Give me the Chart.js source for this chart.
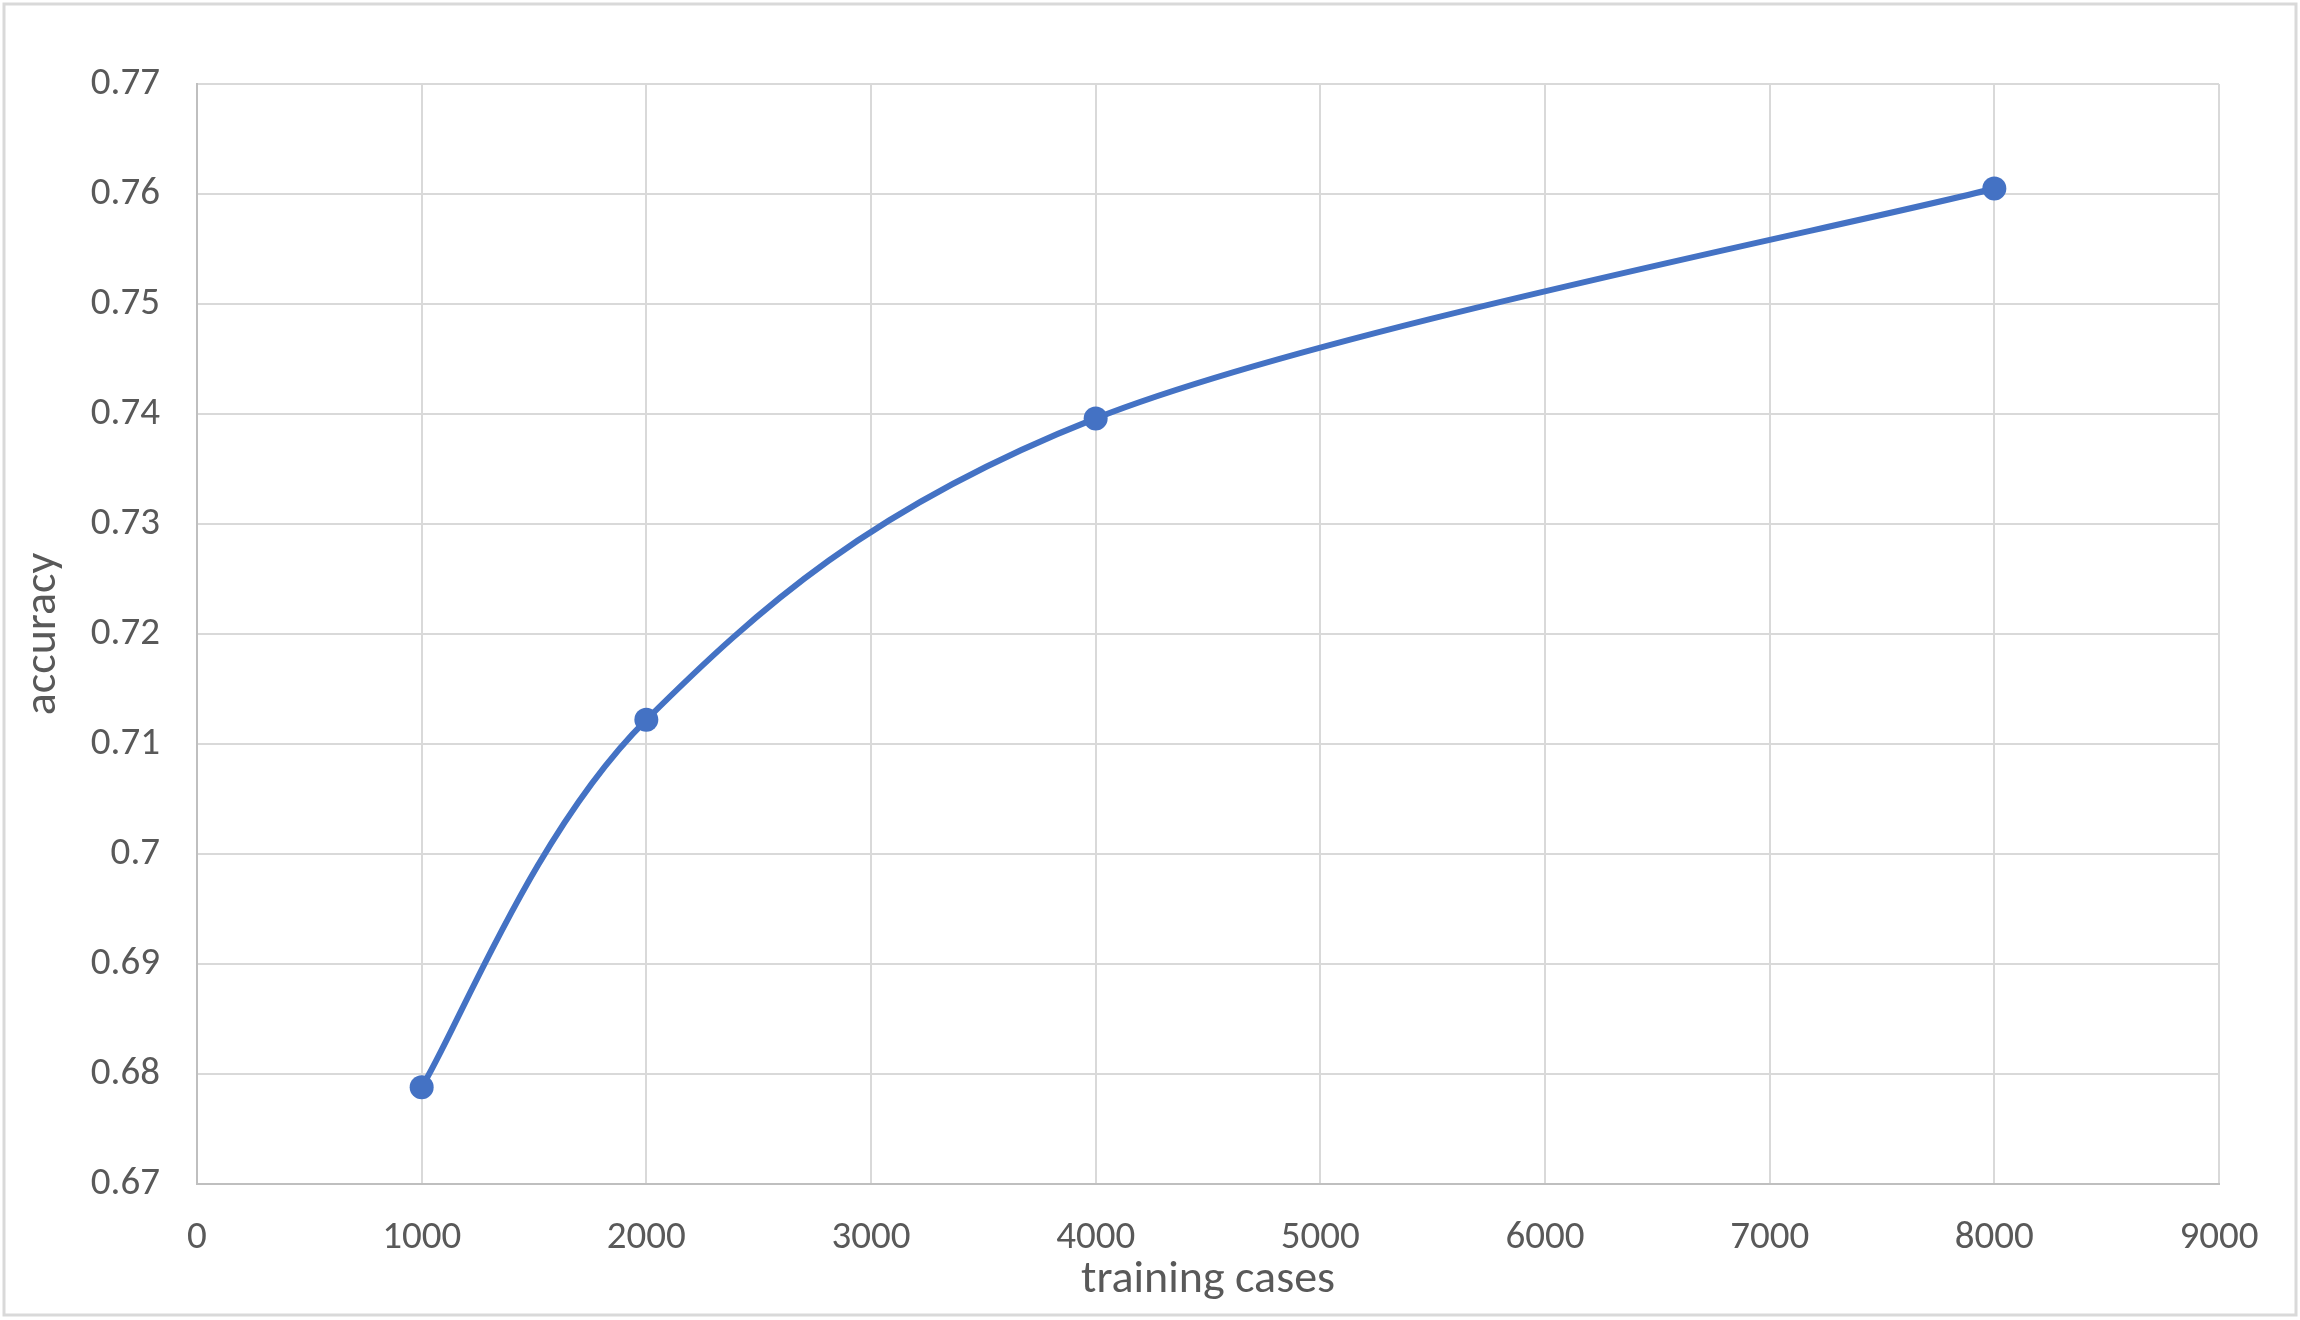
<!DOCTYPE html>
<html>
<head>
<meta charset="utf-8">
<script src="https://cdn.jsdelivr.net/npm/chart.js@4"></script>
<style>
  html, body { margin: 0; padding: 0; background: #fff; }
  #wrap { width: 2300px; height: 1320px; }
</style>
</head>
<body>
<div id="wrap"><canvas id="accChart" width="2300" height="1320"></canvas></div>
<script>
const trainingCases = [1000, 2000, 4000, 8000];
const accuracy = [0.6788, 0.7122, 0.7396, 0.7605];
const xTicks = [0, 1000, 2000, 3000, 4000, 5000, 6000, 7000, 8000, 9000];
const yTicks = [0.67, 0.68, 0.69, 0.7, 0.71, 0.72, 0.73, 0.74, 0.75, 0.76, 0.77];

const fontFamily = "Carlito, Lato, 'Open Sans', sans-serif";
const textColor = "#595959";

// thin grey frame round the whole picture
const frame = {
  id: "frame",
  beforeDraw(chart) {
    const c = chart.ctx;
    c.save();
    c.fillStyle = "#fff";
    c.fillRect(0, 0, chart.width, chart.height);
    c.strokeStyle = "#d9d9d9";
    c.lineWidth = 3;
    c.strokeRect(4, 4, chart.width - 8, chart.height - 9);
    c.restore();
  }
};

// spreadsheet-style smoothing: control points at 1/6 of the neighbour chord
const smoothLine = {
  id: "smoothLine",
  beforeDatasetsDraw(chart) {
    chart.getSortedVisibleDatasetMetas().forEach(meta => {
      const pts = meta.dataset.points;
      const n = pts.length;
      for (let i = 0; i < n; i++) {
        const p = pts[i];
        const prev = pts[Math.max(i - 1, 0)];
        const next = pts[Math.min(i + 1, n - 1)];
        const dx = (next.x - prev.x) / 6, dy = (next.y - prev.y) / 6;
        p.cp1x = p.x - dx; p.cp1y = p.y - dy;
        p.cp2x = p.x + dx; p.cp2y = p.y + dy;
      }
    });
  }
};

new Chart(document.getElementById("accChart"), {
  type: "line",
  data: {
    datasets: [{
      label: "accuracy",
      data: trainingCases.map((x, i) => ({ x: x, y: accuracy[i] })),
      borderColor: "#4472C4",
      backgroundColor: "#4472C4",
      borderWidth: 6,
      pointRadius: 12,
      pointBorderWidth: 0,
      tension: 0.4,
      capBezierPoints: false,
      fill: false
    }]
  },
  options: {
    responsive: false,
    animation: false,
    layout: { padding: { left: 0, top: 84, right: 81, bottom: 0 } },
    plugins: { legend: { display: false }, tooltip: { enabled: false } },
    scales: {
      x: {
        type: "linear",
        min: xTicks[0],
        max: xTicks[xTicks.length - 1],
        afterBuildTicks: s => { s.ticks = xTicks.map(v => ({ value: v })); },
        afterFit: s => { s.height = 136; },
        grid: { color: "#d9d9d9", lineWidth: 2, drawTicks: false },
        border: { color: "#bfbfbf", width: 2 },
        ticks: {
          color: textColor, font: { family: fontFamily, size: 39 }, padding: 31, maxRotation: 0,
          callback: v => String(v)
        },
        title: { display: true, text: "training cases", color: textColor,
                 font: { family: fontFamily, size: 46 }, padding: { top: 0, bottom: 12 } }
      },
      y: {
        min: yTicks[0],
        max: yTicks[yTicks.length - 1],
        afterBuildTicks: s => { s.ticks = yTicks.map(v => ({ value: v })); },
        afterFit: s => { s.width = 197; },
        grid: { color: "#d9d9d9", lineWidth: 2, drawTicks: false },
        border: { color: "#bfbfbf", width: 2 },
        ticks: {
          color: textColor, font: { family: fontFamily, size: 39 }, padding: 37,
          callback: v => String(parseFloat(v.toFixed(2)))
        },
        title: { display: true, text: "accuracy", color: textColor,
                 font: { family: fontFamily, size: 46 }, padding: { top: 16, bottom: 0 } }
      }
    }
  },
  plugins: [frame, smoothLine]
});
</script>
</body>
</html>
